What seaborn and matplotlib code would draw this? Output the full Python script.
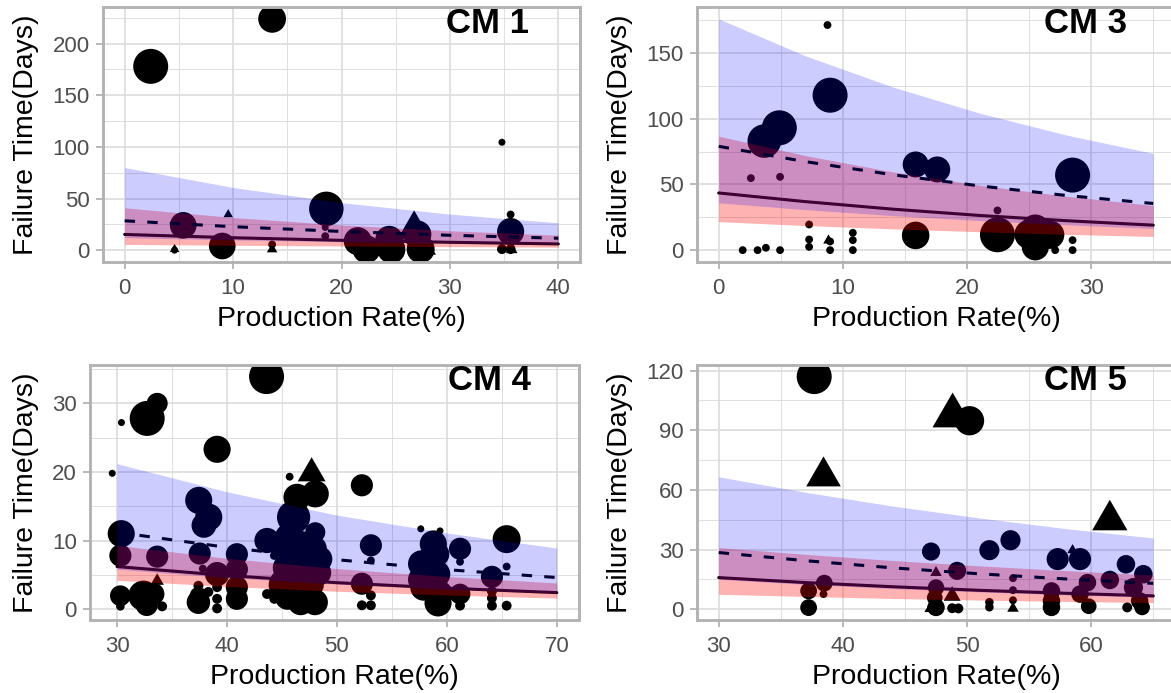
import matplotlib
matplotlib.use("Agg")
import matplotlib.pyplot as plt
from matplotlib.markers import MarkerStyle
import numpy as np
import pandas as pd
import seaborn as sns

# ---------------- CM 1 ----------------
cm1_circle_rate = [2.4, 13.6, 34.8, 35.6, 18.6, 5.4, 9.0, 4.6, 13.6, 18.5,
                   18.5, 21.5, 22.3, 24.4, 24.6, 27.0, 27.3, 35.6, 34.8, 35.6]
cm1_circle_days = [178, 224, 104.5, 34.5, 40, 24, 4, 0, 5.5, 22,
                   13.5, 8.7, 0.8, 10, 0.6, 15.2, 0.9, 18, 1, 1]
cm1_circle_weight = [100, 63, 4, 5, 97, 58, 58, 4, 5, 4,
                     5, 64, 64, 64, 64, 64, 64, 60, 8, 8]
cm1_tri_rate = [9.55, 4.6, 13.6, 26.7, 27.9, 35.7]
cm1_tri_days = [34.5, 0.8, 0.8, 19.7, 0.5, 0.3]
cm1_tri_weight = [4, 4, 5, 51, 14, 6]

cm1_grid = [0, 10, 20, 30, 40]
cm1_fit_a = [15.2, 12.0, 9.5, 7.6, 6.0]
cm1_fit_b = [28.4, 22.7, 18.1, 14.4, 11.5]
cm1_band_a_lo = [5.5, 4.7, 4.0, 3.4, 2.9]
cm1_band_a_hi = [41.0, 31.6, 24.4, 18.8, 14.5]
cm1_band_b_lo = [12.0, 9.9, 8.1, 6.7, 5.5]
cm1_band_b_hi = [80.0, 60.7, 46.0, 34.9, 26.5]

# ---------------- CM 3 ----------------
cm3_circle_rate = [8.76, 8.97, 4.88, 3.67, 15.86, 17.6, 28.5, 2.59, 4.94, 22.45,
                   15.86, 22.45, 25.0, 25.5, 25.5, 26.7, 27.1, 28.5, 28.5, 1.93,
                   3.13, 3.8, 4.94, 7.28, 7.28, 7.28, 8.97, 8.97, 10.8, 10.8,
                   10.8]
cm3_circle_days = [171.3, 117.9, 93.1, 83.0, 65.2, 61.4, 57.1, 54.8, 55.8, 30.2,
                   11.2, 11.7, 12.0, 16.0, 2.5, 11.7, 0, 7.6, 0, 0,
                   0, 1.8, 0, 19.5, 8.1, 2.5, 6.6, 0, 13.2, 7.6,
                   0]
cm3_circle_weight = [5, 100, 100, 92, 55, 55, 100, 5, 5, 5,
                     62, 100, 70, 70, 60, 65, 5, 5, 5, 5,
                     5, 5, 5, 5, 5, 5, 5, 5, 5, 5,
                     5]
cm3_tri_rate = [8.82]
cm3_tri_days = [7.6]
cm3_tri_weight = [5]

cm3_grid = [0, 7, 14, 21, 28, 35]
cm3_fit_a = [43.5, 36.9, 31.2, 26.4, 22.4, 19.0]
cm3_fit_b = [79.0, 67.3, 57.4, 48.9, 41.6, 35.5]
cm3_band_a_lo = [21.7, 18.7, 16.2, 14.0, 12.0, 10.4]
cm3_band_a_hi = [86.7, 71.9, 59.6, 49.4, 41.0, 34.0]
cm3_band_b_lo = [36.0, 30.8, 26.3, 22.5, 19.3, 16.5]
cm3_band_b_hi = [176.0, 147.8, 124.2, 104.3, 87.6, 73.6]

# ---------------- CM 4 ----------------
cm4_circle_rate = [43.6, 33.65, 32.74, 30.4, 39.1, 29.56, 45.7, 46.37, 48.03,
                   37.43, 38.34, 37.9, 46.06, 48.03, 30.38, 30.3, 33.65, 37.52, 40.9,
                   40.9, 40.9, 40.9, 39.1, 43.64, 44.85,
                   45.6, 46.6, 47.9, 48.4, 46.9, 45.5, 48.3, 46.5, 45.3, 46.2,
                   47.8, 45.5, 46.7, 48.0, 47.6,
                   52.27, 53.09, 53.09, 52.27, 53.09, 52.27, 53.09,
                   57.63, 59.38, 58.77, 59.1, 61.2, 61.2, 57.7, 59.08, 57.7, 57.9,
                   59.3, 59.2, 61.2, 61.2, 64.1, 65.44, 65.44, 64.1, 64.1, 64.1,
                   65.44,
                   30.3, 30.3, 32.4, 33.3, 34.1, 32.7, 37.4, 37.4, 38.3,
                   39.1, 39.1, 39.1, 37.4, 43.64, 44.3, 37.8, 44.3]
cm4_circle_days = [33.9, 30.0, 27.8, 27.2, 23.3, 19.8, 19.3, 16.3, 16.8,
                   15.85, 13.4, 12.2, 13.4, 11.2, 11.0, 7.8, 7.65, 8.1, 8.0,
                   5.8, 3.2, 1.5, 5.1, 10.0, 9.5,
                   10.5, 9.0, 8.8, 7.3, 7.3, 6.0, 5.3, 5.0, 3.5, 3.0,
                   3.5, 1.7, 1.0, 1.0, 5.8,
                   18.05, 9.3, 7.1, 3.7, 2.0, 0.55, 0.55,
                   11.7, 11.4, 9.5, 8.0, 8.8, 6.9, 6.6, 5.1, 4.3, 3.2,
                   2.2, 0.9, 2.2, 0.5, 4.7, 10.2, 6.2, 2.6, 1.6, 0.5,
                   0.5,
                   1.95, 0.4, 1.95, 2.2, 0.4, 0.6, 1.95, 3.4, 2.5,
                   3.2, 1.5, 0.1, 1.0, 2.2, 1.5, 5.9, 7.8]
cm4_circle_weight = [100, 36, 100, 4, 60, 4, 5, 60, 60,
                     60, 60, 50, 90, 33, 60, 40, 40, 40, 40,
                     40, 40, 40, 48, 52, 50,
                     60, 90, 55, 55, 60, 70, 55, 80, 90, 60,
                     40, 50, 55, 55, 8,
                     40, 40, 5, 40, 8, 8, 8,
                     4, 4, 60, 50, 40, 5, 60, 60, 60, 60,
                     60, 60, 35, 8, 40, 64, 5, 8, 8, 8,
                     8,
                     35, 6, 75, 40, 8, 40, 25, 8, 8,
                     8, 8, 8, 45, 8, 8, 5, 6]
cm4_tri_rate = [47.7, 33.65]
cm4_tri_days = [19.8, 4.1]
cm4_tri_weight = [35, 8]

cm4_grid = [30, 40, 50, 60, 70]
cm4_fit_a = [6.2, 4.9, 3.85, 3.05, 2.4]
cm4_fit_b = [11.2, 9.0, 7.2, 5.75, 4.6]
cm4_band_a_lo = [4.2, 3.3, 2.6, 2.05, 1.6]
cm4_band_a_hi = [9.3, 7.4, 5.9, 4.75, 3.8]
cm4_band_b_lo = [5.8, 4.6, 3.65, 2.9, 2.3]
cm4_band_b_hi = [21.2, 17.1, 13.7, 11.1, 8.9]

# ---------------- CM 5 ----------------
cm5_circle_rate = [37.69, 50.2, 47.1, 51.8, 53.5, 57.3, 59.1, 49.2, 47.5, 47.4,
                   47.5, 48.8, 49.3, 51.8, 51.8, 53.7, 53.7, 53.7, 56.8, 56.8,
                   56.8, 59.7, 59.1, 59.8, 61.5, 62.8, 64.2, 63.4, 63.9, 62.9,
                   64.1, 37.24, 37.24, 38.5, 38.44]
cm5_circle_days = [117, 94.8, 29.0, 29.7, 34.7, 25.2, 25.2, 19.3, 10.9, 5.8,
                   0.9, 0.5, 0.4, 3.5, 1.0, 15.6, 9.6, 4.5, 9.2, 4.2,
                   0.9, 13.4, 7.6, 1.5, 14.7, 22.6, 17.6, 10.9, 4.2, 0.9,
                   0.9, 9.2, 0.8, 13.1, 7.6]
cm5_circle_weight = [100, 70, 27, 33, 33, 40, 40, 27, 22, 20,
                     25, 8, 8, 6, 6, 5, 5, 5, 25, 25,
                     25, 25, 25, 20, 28, 28, 28, 30, 25, 8,
                     20, 23, 23, 23, 5]
cm5_tri_rate = [48.84, 38.44, 61.5, 58.5, 47.5, 47.1, 48.8, 53.7]
cm5_tri_days = [97.3, 66.8, 44.8, 29.7, 18.4, 0.5, 6.7, 0.4]
cm5_tri_weight = [73, 54, 56, 5, 6, 8, 13, 6]

cm5_grid = [30, 37, 44, 51, 58, 65]
cm5_fit_a = [15.9, 13.4, 11.3, 9.5, 8.0, 6.7]
cm5_fit_b = [28.5, 24.4, 20.8, 17.8, 15.2, 13.0]
cm5_band_a_lo = [7.5, 6.4, 5.4, 4.6, 3.9, 3.3]
cm5_band_a_hi = [31.0, 27.6, 24.5, 21.8, 19.4, 17.2]
cm5_band_b_lo = [15.0, 12.5, 10.4, 8.7, 7.2, 6.0]
cm5_band_b_hi = [66.6, 58.8, 51.9, 45.9, 40.5, 35.8]

# ---------------- styling ----------------
sns.set_theme(style="white")
plt.rcParams["font.family"] = ["Liberation Sans", "DejaVu Sans"]

W, H = 1171, 693
fig = plt.figure(figsize=(W / 100, H / 100), dpi=100)

GRID_COL = "#DEDEDE"
BORDER_COL = "#B3B3B3"
TICK_TXT = "#4D4D4D"

# equal-area filled triangle, centred on its centroid
TRIANGLE = MarkerStyle([(0.0, 1.5551), (1.3468, -0.7776),
                        (-1.3468, -0.7776), (0.0, 1.5551)])
W_NORM = (0, 120)
S_CIRCLE = (0, 6.35 * 120)
S_TRI = (0, 6.35 * 120 * 1.5551 ** 2)


def px_rect(l, t, r, b):
    return [l / W, 1 - b / H, (r - l) / W, (b - t) / H]


def expand(lo, hi, frac=0.05):
    pad = (hi - lo) * frac
    return lo - pad, hi + pad


def draw_panel(rect, label, label_xy, circles, tris, curve,
               xticks, yticks, xminor, yminor, ylab_x):
    ax = fig.add_axes(px_rect(*rect))
    l, t, r, b = rect
    hpx = b - t

    circ = pd.DataFrame({"rate": circles[0], "days": circles[1], "weight": circles[2]})
    tri = pd.DataFrame({"rate": tris[0], "days": tris[1], "weight": tris[2]})
    grid, fit_a, fit_b, a_lo, a_hi, b_lo, b_hi = curve
    cdf = pd.DataFrame({"rate": grid, "fit_a": fit_a, "fit_b": fit_b})

    sns.scatterplot(data=circ, x="rate", y="days", size="weight", sizes=S_CIRCLE,
                    size_norm=W_NORM, marker="o", color="black", linewidth=0,
                    legend=False, ax=ax, zorder=2)
    sns.scatterplot(data=tri, x="rate", y="days", size="weight", sizes=S_TRI,
                    size_norm=W_NORM, marker=TRIANGLE, color="black", linewidth=0,
                    legend=False, ax=ax, zorder=2)

    sns.lineplot(data=cdf, x="rate", y="fit_a", color="black", linewidth=2.2,
                 estimator=None, sort=False, ax=ax, zorder=2.5)
    ax.fill_between(grid, a_lo, a_hi, color="red", alpha=0.3, linewidth=0, zorder=3)
    sns.lineplot(data=cdf, x="rate", y="fit_b", color="black", linewidth=2.2,
                 linestyle=(0, (3.4, 4.0)), estimator=None, sort=False,
                 ax=ax, zorder=3.5)
    ax.fill_between(grid, b_lo, b_hi, color="blue", alpha=0.2, linewidth=0, zorder=4)

    all_x = list(circles[0]) + list(tris[0]) + list(grid)
    all_y = (list(circles[1]) + list(tris[1]) + list(a_lo) + list(a_hi)
             + list(b_lo) + list(b_hi))
    ax.set_xlim(*expand(min(all_x), max(all_x)))
    ax.set_ylim(*expand(min(all_y), max(all_y)))

    ax.set_xticks(xticks)
    ax.set_yticks(yticks)
    ax.set_xticks(xminor, minor=True)
    ax.set_yticks(yminor, minor=True)
    ax.grid(True, which="major", color=GRID_COL, linewidth=1.3)
    ax.grid(True, which="minor", color=GRID_COL, linewidth=0.7)
    ax.set_axisbelow(True)

    for sp in ax.spines.values():
        sp.set_color(BORDER_COL)
        sp.set_linewidth(2.1)
        sp.set_zorder(6)

    ax.tick_params(which="major", bottom=True, left=True, length=5.1, width=1.3,
                   color=BORDER_COL, labelsize=16, labelcolor=TICK_TXT)
    ax.tick_params(axis="x", which="major", pad=6.5)
    ax.tick_params(axis="y", which="major", pad=4.5)
    ax.tick_params(which="minor", length=0)

    ax.set_xlabel("Production Rate(%)", fontsize=20.5, color="black")
    ax.set_ylabel("Failure Time(Days)", fontsize=20.5, color="black")
    ax.xaxis.set_label_coords(0.5, -57.0 / hpx)
    ax.xaxis.label.set_va("center")
    ax.yaxis.set_label_coords(ylab_x, 0.5)
    ax.yaxis.label.set_va("center")
    ax.yaxis.label.set_ha("center")

    ax.text(label_xy[0], label_xy[1], label, transform=ax.transAxes,
            ha="center", va="baseline", fontsize=25, fontweight="bold",
            color="black", zorder=7)
    return ax


# the right-hand panels run slightly past the right edge of the canvas
draw_panel((103, 7.3, 580, 261.7), "CM 1", (0.807, 0.898),
           (cm1_circle_rate, cm1_circle_days, cm1_circle_weight),
           (cm1_tri_rate, cm1_tri_days, cm1_tri_weight),
           (cm1_grid, cm1_fit_a, cm1_fit_b, cm1_band_a_lo, cm1_band_a_hi,
            cm1_band_b_lo, cm1_band_b_hi),
           [0, 10, 20, 30, 40], [0, 50, 100, 150, 200],
           [5, 15, 25, 35], [25, 75, 125, 175, 225], -0.161)

draw_panel((697, 7.3, 1175, 261.7), "CM 3", (0.812, 0.898),
           (cm3_circle_rate, cm3_circle_days, cm3_circle_weight),
           (cm3_tri_rate, cm3_tri_days, cm3_tri_weight),
           (cm3_grid, cm3_fit_a, cm3_fit_b, cm3_band_a_lo, cm3_band_a_hi,
            cm3_band_b_lo, cm3_band_b_hi),
           [0, 10, 20, 30], [0, 50, 100, 150],
           [5, 15, 25, 35], [25, 75, 125, 175], -0.161)

draw_panel((90, 365, 579, 620), "CM 4", (0.816, 0.902),
           (cm4_circle_rate, cm4_circle_days, cm4_circle_weight),
           (cm4_tri_rate, cm4_tri_days, cm4_tri_weight),
           (cm4_grid, cm4_fit_a, cm4_fit_b, cm4_band_a_lo, cm4_band_a_hi,
            cm4_band_b_lo, cm4_band_b_hi),
           [30, 40, 50, 60, 70], [0, 10, 20, 30],
           [35, 45, 55, 65], [5, 15, 25, 35], -0.131)

draw_panel((697, 365, 1175, 620), "CM 5", (0.812, 0.902),
           (cm5_circle_rate, cm5_circle_days, cm5_circle_weight),
           (cm5_tri_rate, cm5_tri_days, cm5_tri_weight),
           (cm5_grid, cm5_fit_a, cm5_fit_b, cm5_band_a_lo, cm5_band_a_hi,
            cm5_band_b_lo, cm5_band_b_hi),
           [30, 40, 50, 60], [0, 30, 60, 90, 120],
           [35, 45, 55, 65], [15, 45, 75, 105], -0.161)

fig.savefig("out.png", dpi=100)
